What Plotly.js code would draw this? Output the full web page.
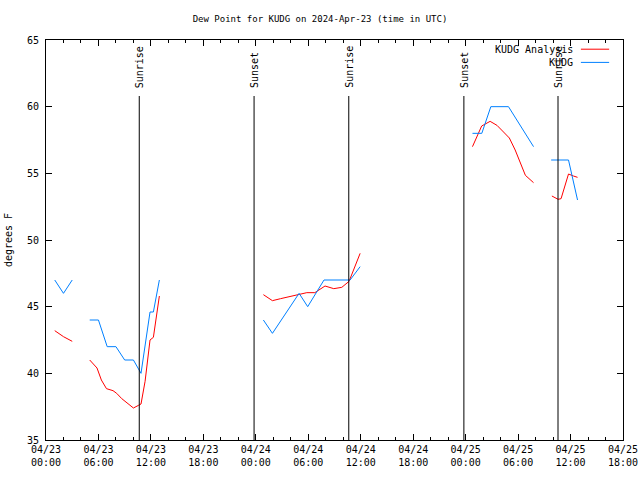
<!DOCTYPE html>
<html>
<head>
<meta charset="utf-8">
<script src="https://cdn.plot.ly/plotly-3.0.1.min.js"></script>
<style>html,body{margin:0;padding:0;background:#fff;}#chart{width:640px;height:480px;}</style>
</head>
<body>
<div id="chart"></div>
<script>
// KUDG observed dew point (F); null breaks the line
var obsTimes = [
  '2024-04-23 01:00','2024-04-23 02:00','2024-04-23 03:00','2024-04-23 04:00',
  '2024-04-23 05:00','2024-04-23 06:00','2024-04-23 07:00','2024-04-23 08:00',
  '2024-04-23 09:00','2024-04-23 10:00','2024-04-23 10:52','2024-04-23 11:54',
  '2024-04-23 12:17','2024-04-23 12:58','2024-04-23 18:00',
  '2024-04-24 00:52','2024-04-24 01:54','2024-04-24 04:57','2024-04-24 05:56',
  '2024-04-24 07:48','2024-04-24 10:47','2024-04-24 11:56','2024-04-24 18:00',
  '2024-04-25 00:47','2024-04-25 01:51','2024-04-25 02:53','2024-04-25 04:54',
  '2024-04-25 07:46','2024-04-25 08:45',
  '2024-04-25 09:47','2024-04-25 11:46','2024-04-25 12:48'
];
var obsValues = [
  47, 46, 47, null,
  44, 44, 42, 42,
  41, 41, 40, 44.6,
  44.6, 47, null,
  44, 43, 46, 45,
  47, 47, 48, null,
  58, 58, 60, 60,
  57, null,
  56, 56, 53
];

// KUDG analysis dew point (F)
var anaTimes = [
  '2024-04-23 01:00','2024-04-23 02:00','2024-04-23 03:00','2024-04-23 04:00',
  '2024-04-23 05:00','2024-04-23 05:50','2024-04-23 06:20','2024-04-23 06:55',
  '2024-04-23 07:40','2024-04-23 08:05','2024-04-23 08:40','2024-04-23 09:15',
  '2024-04-23 10:00','2024-04-23 10:35','2024-04-23 10:52','2024-04-23 11:20',
  '2024-04-23 11:54','2024-04-23 12:17','2024-04-23 12:40','2024-04-23 12:58',
  '2024-04-23 18:00',
  '2024-04-24 00:52','2024-04-24 01:54','2024-04-24 02:50','2024-04-24 03:55',
  '2024-04-24 05:05','2024-04-24 05:50','2024-04-24 06:45','2024-04-24 07:55',
  '2024-04-24 08:55','2024-04-24 09:50','2024-04-24 10:40','2024-04-24 11:56',
  '2024-04-24 18:00',
  '2024-04-25 00:47','2024-04-25 01:28','2024-04-25 01:50','2024-04-25 02:48',
  '2024-04-25 03:35','2024-04-25 04:20','2024-04-25 05:00','2024-04-25 05:40',
  '2024-04-25 06:50','2024-04-25 07:46','2024-04-25 08:45',
  '2024-04-25 09:52','2024-04-25 10:35','2024-04-25 10:55','2024-04-25 11:46',
  '2024-04-25 12:20','2024-04-25 12:48'
];
var anaValues = [
  43.2, 42.75, 42.4, null,
  41.0, 40.4, 39.5, 38.85,
  38.7, 38.5, 38.1, 37.8,
  37.4, 37.6, 37.7, 39.4,
  42.5, 42.7, 44.4, 45.8,
  null,
  45.9, 45.45, 45.6, 45.75,
  45.9, 46.05, 46.05, 46.55,
  46.35, 46.45, 46.9, 49.0,
  null,
  57.0, 58.1, 58.55, 58.9,
  58.6, 58.1, 57.65, 56.75,
  54.85, 54.3, null,
  53.3, 53.05, 53.1, 54.95,
  54.8, 54.7
];

// Sunrise / sunset markers
var sunTimes = ['2024-04-23 10:40','2024-04-23 23:48','2024-04-24 10:38','2024-04-24 23:48','2024-04-25 10:34'];
var sunLabels = ['Sunrise','Sunset','Sunrise','Sunset','Sunrise'];

var yTicks = [35, 40, 45, 50, 55, 60, 65];
var seriesNames = ['KUDG Analysis', 'KUDG'];
var seriesColors = ['#ff0000', '#0080ff'];

var FONT = 'DejaVu Sans Mono, Liberation Mono, monospace';

var traces = [
  {x: anaTimes, y: anaValues, type: 'scatter', mode: 'lines', name: seriesNames[0],
   line: {color: seriesColors[0], width: 1}, connectgaps: false, hoverinfo: 'skip'},
  {x: obsTimes, y: obsValues, type: 'scatter', mode: 'lines', name: seriesNames[1],
   line: {color: seriesColors[1], width: 1}, connectgaps: false, hoverinfo: 'skip'}
];

var shapes = [];
var annotations = [];
sunTimes.forEach(function (t, i) {
  shapes.push({type: 'line', xref: 'x', yref: 'paper', x0: t, x1: t, y0: 0, y1: 0.86,
               line: {color: '#000', width: 1}});
  annotations.push({xref: 'x', yref: 'paper', x: t, y: 0.875, text: sunLabels[i],
                    textangle: -90, showarrow: false, xanchor: 'center', yanchor: 'bottom',
                    font: {family: FONT, size: 10, color: '#000'}});
});
// legend (text right-aligned, sample on the right like the original)
var legY = [0.977, 0.944];
seriesNames.forEach(function (n, i) {
  annotations.push({xref: 'paper', yref: 'paper', x: 0.917, y: legY[i], text: n,
                    showarrow: false, xanchor: 'right', yanchor: 'middle',
                    font: {family: FONT, size: 10, color: '#000'}});
  shapes.push({type: 'line', xref: 'paper', yref: 'paper', x0: 0.927, x1: 0.976,
               y0: legY[i], y1: legY[i], line: {color: seriesColors[i], width: 1}});
});

var layout = {
  width: 640, height: 480,
  margin: {l: 46, r: 17, t: 40, b: 40},
  paper_bgcolor: '#fff', plot_bgcolor: '#fff',
  showlegend: false,
  font: {family: FONT, size: 10, color: '#000'},
  title: {text: 'Dew Point for KUDG on 2024-Apr-23 (time in UTC)', x: 0.5, xref: 'container',
          y: 0.96, yref: 'container', yanchor: 'middle', font: {family: FONT, size: 9, color: '#000'}},
  xaxis: {
    type: 'date', range: ['2024-04-23 00:00', '2024-04-25 18:00'],
    tick0: '2024-04-23 00:00', dtick: 6 * 3600 * 1000, tickformat: '%m/%d<br>%H:%M',
    ticks: 'inside', ticklen: 6, tickcolor: '#000', showline: true, linecolor: '#000', linewidth: 1,
    mirror: 'allticks', showgrid: false, zeroline: false,
    minor: {ticks: 'inside', ticklen: 3, dtick: 2 * 3600 * 1000, tickcolor: '#000', showgrid: false},
    tickfont: {family: FONT, size: 10, color: '#000'}
  },
  yaxis: {
    range: [35, 65], tickvals: yTicks, ticktext: yTicks.map(String),
    ticks: 'inside', ticklen: 6, tickcolor: '#000', showline: true, linecolor: '#000', linewidth: 1,
    mirror: 'allticks', showgrid: false, zeroline: false, ticklabelstandoff: 4,
    title: {text: 'degrees F', standoff: 12, font: {family: FONT, size: 10, color: '#000'}},
    tickfont: {family: FONT, size: 10, color: '#000'}
  },
  shapes: shapes,
  annotations: annotations
};

Plotly.newPlot('chart', traces, layout, {staticPlot: true, displayModeBar: false});
</script>
</body>
</html>
